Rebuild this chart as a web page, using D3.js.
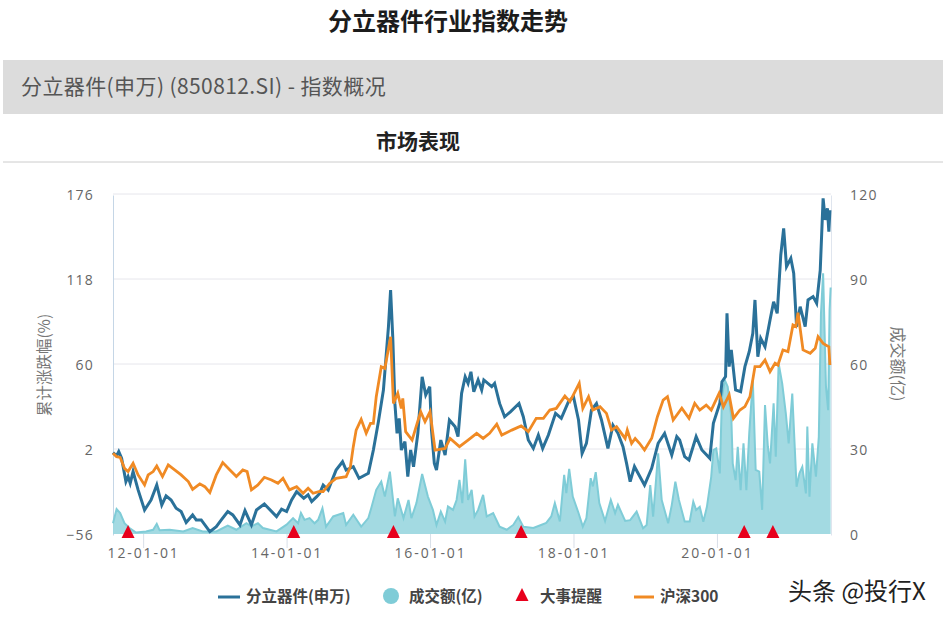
<!DOCTYPE html>
<html>
<head>
<meta charset="utf-8">
<script src="https://d3js.org/d3.v7.min.js"></script>
<style>
  body { margin: 0; background: #fff; }
  text { font-family: "Noto Sans CJK SC", "Open Sans", sans-serif; }
</style>
</head>
<body>
<svg width="950" height="622"></svg>
<script>
  // [year, cumulative change %]
  var indexSeries = [[2011.58,-0.5],[2011.63,-2.7],[2011.66,0.2],[2011.70,-4.3],[2011.76,-20.2],[2011.79,-16.8],[2011.82,-21.4],[2011.86,-13.4],[2011.93,-25.9],[2012.02,-39.6],[2012.11,-32.8],[2012.19,-22.5],[2012.26,-36.2],[2012.32,-30],[2012.39,-32.8],[2012.46,-38.4],[2012.53,-40.7],[2012.60,-48.2],[2012.69,-43],[2012.74,-46.4],[2012.81,-46.4],[2012.93,-54.4],[2013.02,-51],[2013.09,-46.4],[2013.18,-40.7],[2013.25,-43],[2013.35,-49.8],[2013.42,-40],[2013.51,-49.8],[2013.58,-39.6],[2013.69,-35.5],[2013.86,-44.1],[2013.93,-39.1],[2014.0,-40.7],[2014.07,-32.8],[2014.14,-27.1],[2014.24,-31.6],[2014.30,-29.3],[2014.35,-33.9],[2014.42,-30.5],[2014.46,-28.3],[2014.51,-22.6],[2014.58,-26],[2014.69,-12.4],[2014.78,-6.7],[2014.83,-12.4],[2014.93,-10.1],[2015.01,-18],[2015.14,-14.6],[2015.21,1.3],[2015.28,20.6],[2015.35,42.2],[2015.42,85.4],[2015.45,110.5],[2015.48,78.6],[2015.51,33.1],[2015.54,12.7],[2015.57,22.9],[2015.60,1.3],[2015.65,7],[2015.69,-16.9],[2015.73,1.3],[2015.77,-10.1],[2015.83,12.7],[2015.89,51.3],[2015.94,38.8],[2015.996,44.5],[2016.02,15],[2016.06,-7.8],[2016.09,-12.4],[2016.15,8.1],[2016.21,-2.1],[2016.27,21.8],[2016.35,17.2],[2016.39,10.4],[2016.44,40],[2016.49,51.3],[2016.53,46.8],[2016.57,54.7],[2016.61,41.1],[2016.67,49.1],[2016.72,42.2],[2016.75,49.1],[2016.86,44.5],[2016.90,46.8],[2016.97,33.1],[2017.04,24],[2017.12,27.4],[2017.24,33.1],[2017.30,24],[2017.37,8.1],[2017.44,2.4],[2017.51,11.5],[2017.57,2.4],[2017.65,11.5],[2017.75,26.3],[2017.83,22.9],[2017.93,34.3],[2018.0,37.7],[2018.07,21.8],[2018.12,-1],[2018.18,5.8],[2018.25,28.6],[2018.32,33.1],[2018.39,21.8],[2018.48,2.4],[2018.55,18.3],[2018.62,12.7],[2018.69,3.6],[2018.74,-7.8],[2018.79,-20.3],[2018.85,-10],[2018.90,-14.6],[2018.99,-22.6],[2019.09,-11.2],[2019.18,5.9],[2019.27,12.7],[2019.37,-2.1],[2019.44,10.4],[2019.48,8.1],[2019.55,-3.2],[2019.61,-5.5],[2019.71,10.4],[2019.79,1.3],[2019.90,-4.4],[2019.95,19.5],[2020.04,33.2],[2020.07,47.9],[2020.12,51.4],[2020.14,94.6],[2020.17,58.2],[2020.20,69.6],[2020.26,42.3],[2020.33,41.1],[2020.39,58.2],[2020.45,68.4],[2020.50,80.9],[2020.53,103.7],[2020.57,65],[2020.61,77.5],[2020.67,71.8],[2020.74,90],[2020.79,102.5],[2020.84,94.6],[2020.89,134.4],[2020.93,152.6],[2020.97,126.4],[2021.03,132.1],[2021.07,121.9],[2021.11,85.5],[2021.16,99.1],[2021.23,85.5],[2021.27,103.7],[2021.34,106],[2021.39,101.4],[2021.44,124.1],[2021.48,173],[2021.51,158.3],[2021.54,166.2],[2021.56,150.3],[2021.575,165]];

  var hs300Series = [[2011.58,-0.9],[2011.63,-3.2],[2011.68,-3.7],[2011.74,-11.2],[2011.79,-13.4],[2011.86,-7.7],[2011.93,-15.7],[2012.02,-22.5],[2012.07,-15.7],[2012.14,-13.4],[2012.19,-9.6],[2012.27,-16.8],[2012.35,-8.9],[2012.44,-12.3],[2012.53,-15.7],[2012.63,-20.2],[2012.69,-25.5],[2012.79,-21.8],[2012.86,-23.7],[2012.93,-27.7],[2013.02,-15.7],[2013.11,-7.3],[2013.21,-12.3],[2013.30,-16.8],[2013.39,-12.3],[2013.45,-13.4],[2013.51,-25.9],[2013.60,-22.5],[2013.69,-17.3],[2013.79,-19.1],[2013.88,-21.4],[2013.95,-18],[2014.04,-25.9],[2014.14,-23.7],[2014.23,-28.2],[2014.30,-24.8],[2014.37,-28.2],[2014.46,-27],[2014.51,-27.1],[2014.60,-21.5],[2014.69,-18],[2014.83,-16.9],[2014.89,-10.1],[2014.93,3.6],[2014.97,14.9],[2015.04,22.2],[2015.11,12.7],[2015.17,19.5],[2015.21,19.5],[2015.25,37.7],[2015.32,58.1],[2015.37,57],[2015.45,78.6],[2015.49,33.1],[2015.55,40],[2015.60,29.7],[2015.62,36.5],[2015.66,13.8],[2015.75,8.1],[2015.82,19.5],[2015.87,27.4],[2015.93,20.6],[2016.0,27.4],[2016.07,1.3],[2016.21,2.4],[2016.28,9.2],[2016.41,3.6],[2016.53,8.1],[2016.65,12.7],[2016.74,9.2],[2016.83,12.7],[2016.93,19],[2017.0,11.5],[2017.14,14.9],[2017.27,17.7],[2017.37,13.8],[2017.48,22.9],[2017.58,22.9],[2017.67,28.6],[2017.76,29.7],[2017.88,38.1],[2017.95,34.3],[2018.08,46.8],[2018.13,29.7],[2018.21,37.7],[2018.27,28.6],[2018.37,30.9],[2018.46,26.3],[2018.53,14.9],[2018.60,17.2],[2018.72,9.2],[2018.75,14.9],[2018.81,5.8],[2018.86,9.2],[2018.92,5.9],[2018.99,1.3],[2019.09,9.3],[2019.17,24],[2019.25,35.4],[2019.31,37.7],[2019.39,21.8],[2019.51,29.8],[2019.61,22.9],[2019.69,33.2],[2019.76,28.6],[2019.85,32],[2019.92,28.6],[2020.03,40],[2020.09,30.9],[2020.17,38.9],[2020.23,22.9],[2020.32,28.6],[2020.39,30.9],[2020.46,37.7],[2020.53,58.2],[2020.60,58.2],[2020.67,62.7],[2020.74,54.8],[2020.81,60.5],[2020.85,59.3],[2020.92,69.6],[2020.99,68.4],[2021.06,86.6],[2021.10,85.5],[2021.13,95],[2021.20,69.6],[2021.30,67.3],[2021.37,70.7],[2021.41,78.6],[2021.48,74.1],[2021.56,71.8],[2021.575,59.3]];

  var volumeSeries = [[2011.58,3.8],[2011.63,8.8],[2011.68,7.4],[2011.74,3.8],[2011.81,2.1],[2011.90,0.5],[2012.04,0.9],[2012.14,1.5],[2012.19,3.6],[2012.23,1.3],[2012.37,1.5],[2012.56,0.9],[2012.69,2.1],[2012.83,0.9],[2013.02,0.9],[2013.18,3],[2013.30,1.5],[2013.44,3.8],[2013.51,2.7],[2013.60,3.8],[2013.67,2.1],[2013.86,0.9],[2014.0,3.3],[2014.09,5.6],[2014.16,3.8],[2014.20,7.4],[2014.25,5],[2014.32,5.6],[2014.39,3.8],[2014.44,5],[2014.50,9.1],[2014.55,2.6],[2014.65,6.2],[2014.79,7.4],[2014.83,3.2],[2014.93,6.8],[2015.04,2.6],[2015.14,5.6],[2015.18,9.1],[2015.25,15.6],[2015.32,18.5],[2015.37,13.2],[2015.44,22],[2015.51,6.2],[2015.55,12.6],[2015.63,5.6],[2015.70,12],[2015.74,5.6],[2015.81,10.9],[2015.89,21.2],[2015.97,13.2],[2016.04,8.5],[2016.09,3.2],[2016.15,7.9],[2016.21,4.4],[2016.25,9.7],[2016.32,8.5],[2016.37,12],[2016.41,19.1],[2016.45,10.9],[2016.49,26.4],[2016.53,12],[2016.58,15.6],[2016.62,6.2],[2016.67,8.5],[2016.74,13.8],[2016.79,6.2],[2016.88,7.4],[2016.97,2.6],[2017.07,1.5],[2017.16,3.2],[2017.23,6],[2017.30,2.6],[2017.44,2.1],[2017.53,3],[2017.62,3.9],[2017.69,6.2],[2017.74,10.9],[2017.81,4.4],[2017.87,20.9],[2017.90,14.4],[2017.94,23],[2017.99,13.2],[2018.07,7.4],[2018.13,2.6],[2018.18,5.6],[2018.24,19.7],[2018.27,16.8],[2018.31,21.8],[2018.36,10.9],[2018.44,4.6],[2018.52,12],[2018.58,7.4],[2018.62,10.3],[2018.72,4.6],[2018.79,4.9],[2018.88,7.9],[2018.97,2],[2019.02,3.2],[2019.07,17.3],[2019.11,6.1],[2019.18,28.5],[2019.23,12],[2019.32,3.8],[2019.37,10.2],[2019.42,18.5],[2019.47,12],[2019.55,4.4],[2019.62,4.4],[2019.67,11.4],[2019.71,8.5],[2019.76,9.6],[2019.81,4.3],[2019.86,9.6],[2019.92,20.2],[2019.95,29.6],[2019.99,30.2],[2020.04,21.4],[2020.07,48.4],[2020.11,54.3],[2020.15,52],[2020.20,41.4],[2020.22,24.9],[2020.26,19],[2020.29,30.8],[2020.33,15.5],[2020.37,32],[2020.41,15.5],[2020.45,35.5],[2020.50,54.3],[2020.54,22.6],[2020.59,22],[2020.63,8.5],[2020.67,45.5],[2020.71,30.8],[2020.74,24.9],[2020.79,46.1],[2020.82,27.3],[2020.86,60.2],[2020.91,53.1],[2020.96,42.6],[2021.0,32],[2021.05,49.6],[2021.11,16.7],[2021.15,21.4],[2021.19,23.7],[2021.24,14.3],[2021.26,37.9],[2021.29,13.2],[2021.33,32],[2021.38,20.2],[2021.42,34.3],[2021.45,77.8],[2021.48,92],[2021.52,52],[2021.55,43.7],[2021.57,79],[2021.585,87]];

  var eventYears = [2011.79, 2014.10, 2015.49, 2017.27, 2020.38, 2020.78];
  var xTickYears = [2012, 2014, 2016, 2018, 2020];
  var xTickLabels = ["12-01-01", "14-01-01", "16-01-01", "18-01-01", "20-01-01"];
  var leftTicks = [-56, 2, 60, 118, 176];
  var rightTicks = [0, 30, 60, 90, 120];

  var blue = "#2a7199", orange = "#f08a24", teal = "#7fccd7", red = "#e8001c";

  var svg = d3.select("svg");
  var left = 113, right = 831, top_ = 194, bottom = 534;

  var x = d3.scaleLinear().domain([2011.58, 2021.59]).range([left, right]);
  var yLeft = d3.scaleLinear().domain([-56, 176]).range([bottom, top_]);
  var yRight = d3.scaleLinear().domain([0, 120]).range([bottom, top_]);

  // header
  svg.append("text").attr("x", 448).attr("y", 30).attr("text-anchor", "middle")
    .attr("font-size", "24px").attr("font-weight", "bold").attr("fill", "#1c1c1c")
    .text("分立器件行业指数走势");
  svg.append("rect").attr("x", 3).attr("y", 60).attr("width", 940).attr("height", 54).attr("fill", "#dcdcdc");
  svg.append("text").attr("x", 21).attr("y", 94)
    .attr("font-size", "21px").attr("fill", "#555").style("letter-spacing", "0.4px")
    .text("分立器件(申万) (850812.SI) - 指数概况");
  svg.append("text").attr("x", 418).attr("y", 149).attr("text-anchor", "middle")
    .attr("font-size", "21px").attr("font-weight", "bold").attr("fill", "#222")
    .text("市场表现");
  svg.append("line").attr("x1", 3).attr("x2", 943).attr("y1", 162).attr("y2", 162)
    .attr("stroke", "#cccccc").attr("stroke-width", 1);

  // grid
  svg.append("g").selectAll("line").data(leftTicks.slice(1)).enter().append("line")
    .attr("x1", left).attr("x2", right)
    .attr("y1", function(d) { return yLeft(d); })
    .attr("y2", function(d) { return yLeft(d); })
    .attr("stroke", "#e6e6ec").attr("stroke-width", 1);

  // axes
  var xAxis = d3.axisBottom(x).tickValues(xTickYears)
    .tickFormat(function(d, i) { return xTickLabels[i]; }).tickSize(14).tickPadding(-3);
  var xG = svg.append("g").attr("transform", "translate(0," + bottom + ")").call(xAxis);
  xG.select(".domain").remove();
  xG.selectAll("line").attr("stroke", "#d8dfe8");
  xG.selectAll("text").attr("fill", "#666").attr("font-size", "14px").attr("dy", "0.95em")
    .style("font-family", "'Open Sans'").style("letter-spacing", "1.9px");

  var lAxis = d3.axisLeft(yLeft).tickValues(leftTicks).tickSize(0).tickPadding(19);
  var lG = svg.append("g").attr("transform", "translate(" + left + ",1)").call(lAxis);
  lG.select(".domain").attr("stroke", "#c5d6e6");
  lG.selectAll("text").attr("fill", "#666").attr("font-size", "14px")
    .style("font-family", "'Open Sans'").style("letter-spacing", "1.2px");

  var rAxis = d3.axisRight(yRight).tickValues(rightTicks).tickSize(0).tickPadding(19);
  var rG = svg.append("g").attr("transform", "translate(" + right + ",1)").call(rAxis);
  rG.select(".domain").attr("stroke", "#dfe5ee");
  rG.selectAll("text").attr("fill", "#666").attr("font-size", "14px")
    .style("font-family", "'Open Sans'").style("letter-spacing", "1.2px");

  svg.append("text").attr("transform", "translate(50,365)rotate(-90)").attr("text-anchor", "middle")
    .attr("font-size", "15.5px").attr("fill", "#777").text("累计涨跌幅(%)");
  svg.append("text").attr("transform", "translate(892,364)rotate(90)").attr("text-anchor", "middle")
    .attr("font-size", "16px").attr("fill", "#777").text("成交额(亿)");

  // volume
  var volumeArea = d3.area()
    .x(function(d) { return x(d[0]); })
    .y0(yRight(0))
    .y1(function(d) { return yRight(d[1]); });
  var volumeLine = d3.line()
    .x(function(d) { return x(d[0]); })
    .y(function(d) { return yRight(d[1]); });
  svg.append("path").datum(volumeSeries).attr("d", volumeArea)
    .style("fill", "#9ed8e0").style("fill-opacity", 0.95);
  svg.append("path").datum(volumeSeries).attr("d", volumeLine)
    .style("fill", "none").style("stroke", teal).style("stroke-width", 2);

  // index lines
  var priceLine = d3.line()
    .x(function(d) { return x(d[0]); })
    .y(function(d) { return yLeft(d[1]); });
  svg.append("path").datum(indexSeries).attr("d", priceLine)
    .style("fill", "none").style("stroke", blue).style("stroke-width", 3);
  svg.append("path").datum(hs300Series).attr("d", priceLine)
    .style("fill", "none").style("stroke", orange).style("stroke-width", 2.8);

  // event markers
  svg.append("g").selectAll("path").data(eventYears).enter().append("path")
    .attr("transform", function(d) { return "translate(" + x(d) + "," + (yRight(0) - 1) + ")"; })
    .attr("d", "M0,-8L6.5,5L-6.5,5Z")
    .style("fill", red);

  // legend
  var legend = svg.append("g").attr("font-size", "15.5px").attr("font-weight", "bold").attr("fill", "#444");
  legend.append("line").attr("x1", 218).attr("x2", 240).attr("y1", 597).attr("y2", 597)
    .attr("stroke", blue).attr("stroke-width", 3);
  legend.append("text").attr("x", 246).attr("y", 602).text("分立器件(申万)");
  legend.append("circle").attr("cx", 391).attr("cy", 596).attr("r", 8).attr("fill", teal);
  legend.append("text").attr("x", 409).attr("y", 602).text("成交额(亿)");
  legend.append("path").attr("transform", "translate(522,596)").attr("d", "M0,-8L6.5,5L-6.5,5Z").attr("fill", red);
  legend.append("text").attr("x", 540).attr("y", 602).text("大事提醒");
  legend.append("line").attr("x1", 634).attr("x2", 654).attr("y1", 597).attr("y2", 597)
    .attr("stroke", orange).attr("stroke-width", 3);
  legend.append("text").attr("x", 660).attr("y", 602).text("沪深300");

  // watermark
  svg.append("text").attr("x", 788).attr("y", 600).attr("font-size", "24px").attr("fill", "#222")
    .text("头条 @投行X");
</script>
</body>
</html>
